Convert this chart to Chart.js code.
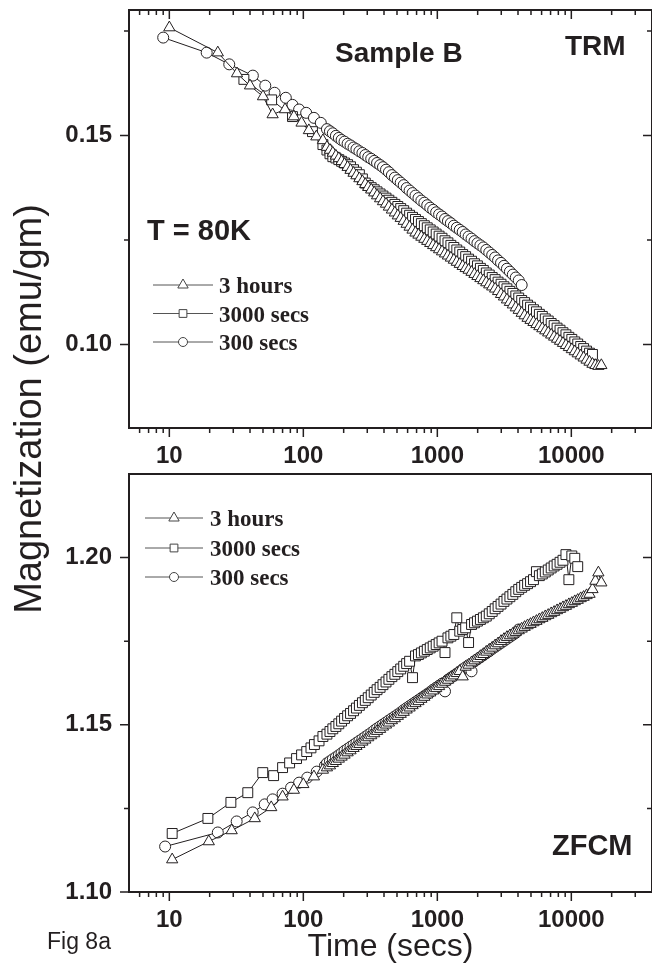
<!DOCTYPE html>
<html>
<head>
<meta charset="utf-8">
<script src="https://cdn.jsdelivr.net/npm/chart.js@4.4.1/dist/chart.umd.min.js"></script>
<style>
  html, body { margin: 0; padding: 0; background: #fff; }
  body { width: 652px; height: 964px; overflow: hidden; position: relative;
         font-family: "Liberation Sans", Arial, sans-serif; color: #231f20; }
  .panel { position: absolute; left: 0; width: 660px; }
  #trmBox { top: 0; height: 470px; }
  #zfcmBox { top: 464px; height: 500px; }
  #ytitle { position: absolute; left: -272px; top: 387px; width: 600px; height: 44px;
            line-height: 44px; text-align: center; font-size: 38px; white-space: nowrap;
            transform: rotate(-90deg); }
  #fig { position: absolute; left: 47px; top: 930px; font-size: 23px; line-height: 23px; }
</style>
</head>
<body>
<div class="panel" id="trmBox"><canvas id="trm"></canvas></div>
<div class="panel" id="zfcmBox"><canvas id="zfcm"></canvas></div>
<div id="ytitle">Magnetization (emu/gm)</div>
<div id="fig">Fig 8a</div>
<script>
// time axis (secs), log scale
const xMajor = [10, 100, 1000, 10000];
const xMinor = [6, 7, 8, 9, 20, 30, 40, 50, 60, 70, 80, 90, 200, 300, 400, 500, 600, 700, 800, 900,
                2000, 3000, 4000, 5000, 6000, 7000, 8000, 9000, 20000, 30000];
const xTickLabels = ['10', '100', '1000', '10000'];

// measurement times after ~150 s (shared by all runs)
const sampleTimes = [150, 158, 166, 175, 184, 193, 203, 214, 225, 237,
  249, 262, 276, 290, 305, 321, 338, 355, 374, 393,
  414, 435, 458, 482, 507, 533, 561, 590, 621, 653,
  687, 723, 760, 800, 841, 885, 931, 980, 1031, 1084,
  1141, 1200, 1262, 1328, 1397, 1470, 1546, 1627, 1711, 1800,
  1894, 1992, 2096, 2205, 2319, 2440, 2567, 2700, 2840, 2988,
  3143, 3307, 3479, 3660, 3850, 4050, 4261, 4482, 4715, 4960,
  5218, 5490, 5775, 6075, 6391, 6724, 7073, 7441, 7828, 8235,
  8663, 9114, 9588, 10086, 10611, 11163, 11743, 12354, 12996, 13672,
  14383, 15131, 15918, 16746];

// ---- TRM panel ----
const trmMajor = [0.10, 0.15];
const trmMinor = [0.125, 0.175];
const trmTickLabels = ['0.10', '0.15'];

const trmEarly3h = [10, 23, 32, 40, 50, 59, 73, 85, 97, 110, 125, 140];
const trmVals3h = [0.1758, 0.1698, 0.1648, 0.1619, 0.1593, 0.1550, 0.1562, 0.1545, 0.1530, 0.1512, 0.1497, 0.1488,
  0.1472, 0.1465, 0.1458, 0.1451, 0.1445, 0.1438, 0.1431, 0.1424, 0.1417, 0.1410,
  0.1404, 0.1397, 0.1390, 0.1383, 0.1376, 0.1370, 0.1363, 0.1356, 0.1349, 0.1342,
  0.1336, 0.1329, 0.1322, 0.1315, 0.1308, 0.1302, 0.1295, 0.1288, 0.1281, 0.1274,
  0.1267, 0.1262, 0.1257, 0.1252, 0.1247, 0.1242, 0.1237, 0.1232, 0.1227, 0.1222,
  0.1217, 0.1212, 0.1207, 0.1202, 0.1197, 0.1192, 0.1187, 0.1182, 0.1178, 0.1173,
  0.1168, 0.1163, 0.1158, 0.1153, 0.1148, 0.1143, 0.1138, 0.1133, 0.1127, 0.1120,
  0.1114, 0.1107, 0.1101, 0.1095, 0.1088, 0.1082, 0.1075, 0.1069, 0.1063, 0.1058,
  0.1053, 0.1048, 0.1043, 0.1038, 0.1033, 0.1028, 0.1023, 0.1018, 0.1013, 0.1008,
  0.1003, 0.0998, 0.0993, 0.0988, 0.0983, 0.0978, 0.0973, 0.0968, 0.0963, 0.0958,
  0.0953, 0.0950, 0.0948, 0.0950];

const trmEarly3000 = [36, 58, 83, 117, 140];
const trmVals3000 = [0.1634, 0.1585, 0.1545, 0.1509, 0.1478,
  0.1465, 0.1456, 0.1449, 0.1446, 0.1442, 0.1438, 0.1434, 0.1430, 0.1425, 0.1418,
  0.1412, 0.1406, 0.1396, 0.1386, 0.1380, 0.1375, 0.1370, 0.1365, 0.1360, 0.1355,
  0.1350, 0.1345, 0.1340, 0.1335, 0.1330, 0.1325, 0.1320, 0.1314, 0.1309, 0.1304,
  0.1299, 0.1294, 0.1289, 0.1284, 0.1279, 0.1274, 0.1269, 0.1264, 0.1259, 0.1254,
  0.1248, 0.1243, 0.1237, 0.1232, 0.1226, 0.1221, 0.1215, 0.1210, 0.1204, 0.1199,
  0.1193, 0.1188, 0.1182, 0.1177, 0.1171, 0.1166, 0.1160, 0.1155, 0.1149, 0.1144,
  0.1138, 0.1133, 0.1127, 0.1122, 0.1116, 0.1111, 0.1105, 0.1100, 0.1094, 0.1089,
  0.1083, 0.1078, 0.1072, 0.1067, 0.1061, 0.1056, 0.1050, 0.1045, 0.1039, 0.1034,
  0.1028, 0.1023, 0.1017, 0.1012, 0.1006, 0.1001, 0.0995, 0.0990, 0.0984, 0.0979,
  0.0976];

const trmEarly300 = [9, 19, 28, 42, 52, 61, 74, 83, 93, 105, 120, 135];
const trmVals300 = [0.1734, 0.1698, 0.1670, 0.1643, 0.1619, 0.1602, 0.1590, 0.1573, 0.1562, 0.1554, 0.1542, 0.1530,
  0.1515, 0.1510, 0.1505, 0.1499, 0.1494, 0.1489, 0.1485, 0.1480, 0.1476, 0.1471,
  0.1467, 0.1462, 0.1458, 0.1453, 0.1448, 0.1444, 0.1439, 0.1434, 0.1429, 0.1424,
  0.1418, 0.1412, 0.1405, 0.1399, 0.1393, 0.1387, 0.1381, 0.1374, 0.1368, 0.1362,
  0.1356, 0.1350, 0.1344, 0.1339, 0.1333, 0.1327, 0.1322, 0.1316, 0.1311, 0.1306,
  0.1300, 0.1295, 0.1290, 0.1284, 0.1279, 0.1274, 0.1269, 0.1263, 0.1258, 0.1253,
  0.1247, 0.1242, 0.1237, 0.1232, 0.1226, 0.1220, 0.1214, 0.1208, 0.1201, 0.1195,
  0.1188, 0.1181, 0.1174, 0.1167, 0.1160, 0.1153, 0.1142];

// ---- ZFCM panel ----
const zfcMajor = [1.10, 1.15, 1.20];
const zfcMinor = [1.125, 1.175];
const zfcTickLabels = ['1.10', '1.15', '1.20'];

const zfcEarly3h = [10.5, 19.7, 29.2, 43.4, 57.6, 70, 85, 100, 120, 140];
const zfcVals3h = [1.1097, 1.1151, 1.1184, 1.1220, 1.1253, 1.1285, 1.1305, 1.1322, 1.1345, 1.1365,
  1.1372, 1.1378, 1.1385, 1.1391, 1.1398, 1.1404, 1.1410, 1.1417, 1.1423, 1.1430,
  1.1436, 1.1442, 1.1449, 1.1455, 1.1462, 1.1468, 1.1474, 1.1481, 1.1487, 1.1494,
  1.1500, 1.1506, 1.1513, 1.1519, 1.1526, 1.1532, 1.1538, 1.1545, 1.1551, 1.1558,
  1.1564, 1.1570, 1.1577, 1.1583, 1.1590, 1.1596, 1.1602, 1.1609, 1.1615, 1.1622,
  1.1628, 1.1634, 1.1641, 1.1647, 1.1654, 1.1660, 1.1644, 1.1673, 1.1679, 1.1686,
  1.1692, 1.1698, 1.1705, 1.1711, 1.1718, 1.1724, 1.1730, 1.1737, 1.1743, 1.1750,
  1.1756, 1.1762, 1.1767, 1.1772, 1.1777, 1.1782, 1.1787, 1.1792, 1.1797, 1.1801,
  1.1806, 1.1810, 1.1815, 1.1819, 1.1824, 1.1828, 1.1833, 1.1837, 1.1842, 1.1846,
  1.1851, 1.1855, 1.1860, 1.1864, 1.1869, 1.1873, 1.1878, 1.1882, 1.1887, 1.1891,
  1.1905, 1.1930, 1.1955, 1.1925];

const zfcEarly3000 = [10.5, 19.4, 28.8, 38.5, 49.8, 60, 70, 79, 89, 97, 106, 114, 121, 131, 140];
const zfcVals3000 = [1.1175, 1.1220, 1.1268, 1.1297, 1.1357, 1.1348, 1.1372, 1.1386, 1.1399, 1.1410,
  1.1420, 1.1431, 1.1441, 1.1452, 1.1465,
  1.1472, 1.1480, 1.1488, 1.1495, 1.1503, 1.1511, 1.1519, 1.1527, 1.1534, 1.1542,
  1.1550, 1.1558, 1.1566, 1.1573, 1.1581, 1.1589, 1.1597, 1.1605, 1.1612, 1.1620,
  1.1628, 1.1636, 1.1644, 1.1651, 1.1659, 1.1667, 1.1675, 1.1683, 1.1690, 1.1641,
  1.1706, 1.1710, 1.1715, 1.1720, 1.1725, 1.1730, 1.1735, 1.1740, 1.1745, 1.1750,
  1.1716, 1.1760, 1.1765, 1.1770, 1.1820, 1.1780, 1.1785, 1.1790, 1.1746, 1.1800,
  1.1805, 1.1810, 1.1815, 1.1820, 1.1825, 1.1832, 1.1839, 1.1847, 1.1854, 1.1861,
  1.1869, 1.1876, 1.1883, 1.1890, 1.1898, 1.1905, 1.1911, 1.1917, 1.1922, 1.1928,
  1.1934, 1.1958, 1.1946, 1.1951, 1.1957, 1.1963, 1.1969, 1.1975, 1.1980, 1.1986,
  1.1992, 1.2009, 1.1934, 1.2005, 1.1998, 1.1973];

const zfcEarly300 = [9.3, 23, 31.8, 41.9, 51.5, 59, 70, 81, 93, 107, 126, 145];
const zfcVals300 = [1.1136, 1.1178, 1.1211, 1.1238, 1.1262, 1.1277, 1.1294, 1.1312, 1.1327, 1.1342, 1.1360, 1.1378,
  1.1385, 1.1391, 1.1397, 1.1403, 1.1409, 1.1415, 1.1422, 1.1428, 1.1434, 1.1440,
  1.1446, 1.1452, 1.1458, 1.1464, 1.1470, 1.1476, 1.1483, 1.1489, 1.1495, 1.1501,
  1.1507, 1.1513, 1.1519, 1.1525, 1.1531, 1.1537, 1.1544, 1.1550, 1.1556, 1.1562,
  1.1568, 1.1574, 1.1580, 1.1586, 1.1592, 1.1598, 1.1605, 1.1611, 1.1617, 1.1623,
  1.1600, 1.1635, 1.1641, 1.1647, 1.1653, 1.1659, 1.1666, 1.1672, 1.1678, 1.1660,
  1.1690, 1.1696, 1.1702, 1.1708, 1.1714, 1.1720, 1.1727, 1.1733, 1.1739, 1.1745,
  1.1751, 1.1757, 1.1763, 1.1769, 1.1775, 1.1785];

const seriesLabels = ['3 hours', '3000 secs', '300 secs'];

const ink = '#231f20';
const markers = [
  { style: 'triangle', radius: 6.5, legendRadius: 6 },
  { style: 'rect', radius: 7, legendRadius: 5.5 },
  { style: 'circle', radius: 5.5, legendRadius: 4.5 }
];

// a run = its early readings, then the shared sample times, as far as its values go
function toPoints(early, vals) {
  const times = early.concat(sampleTimes);
  return vals.map((v, i) => ({ x: times[i], y: v }));
}

function makeDatasets(runs) {
  return runs.map((r, i) => ({
    label: seriesLabels[i],
    data: toPoints(r[0], r[1]),
    showLine: true,
    borderColor: ink,
    borderWidth: 1,
    pointStyle: markers[i].style,
    pointRadius: markers[i].radius,
    pointBackgroundColor: '#fff',
    pointBorderColor: ink,
    pointBorderWidth: 1
  }));
}

// frame plus ticks: out on left/bottom, in on right/top
function frameTicks(yMajor, yMinor, topTicks) {
  return {
    id: 'frameTicks',
    afterDraw(chart) {
      const { ctx, chartArea: a } = chart;
      const xs = chart.scales.x, ys = chart.scales.y;
      ctx.save();
      ctx.strokeStyle = ink;
      ctx.lineWidth = 2;
      ctx.strokeRect(a.left, a.top, a.right - a.left, a.bottom - a.top);
      ctx.lineWidth = 1.5;
      ctx.beginPath();
      const seg = (x1, y1, x2, y2) => { ctx.moveTo(x1, y1); ctx.lineTo(x2, y2); };
      [[xMajor, 9], [xMinor, 5]].forEach(([vals, len]) => vals.forEach(v => {
        const px = xs.getPixelForValue(v);
        seg(px, a.bottom, px, a.bottom + len);
        if (topTicks) seg(px, a.top, px, a.top + len);
      }));
      [[yMajor, 9], [yMinor, 5]].forEach(([vals, len]) => vals.forEach(v => {
        const py = ys.getPixelForValue(v);
        seg(a.left - len, py, a.left, py);
        seg(a.right - len, py, a.right, py);
      }));
      ctx.stroke();
      ctx.restore();
    }
  };
}

function legendBox(o) {
  return {
    id: 'legendBox',
    afterDraw(chart) {
      const ctx = chart.ctx;
      ctx.save();
      chart.data.datasets.forEach((ds, i) => {
        const y = o.rows[i];
        ctx.strokeStyle = '#555';
        ctx.lineWidth = 1;
        ctx.beginPath();
        ctx.moveTo(o.x1, y); ctx.lineTo(o.x2, y);
        ctx.stroke();
        ctx.fillStyle = '#fff';
        ctx.strokeStyle = '#444';
        Chart.helpers.drawPoint(ctx, { pointStyle: markers[i].style, radius: markers[i].legendRadius,
          rotation: 0, borderWidth: 1 }, o.mx, y);
        ctx.fillStyle = ink;
        ctx.font = 'bold 23px "Liberation Serif", "Times New Roman", serif';
        ctx.textBaseline = 'alphabetic';
        ctx.fillText(ds.label, o.tx, y + 8);
      });
      ctx.restore();
    }
  };
}

function notes(items) {
  return {
    id: 'notes',
    afterDraw(chart) {
      const ctx = chart.ctx;
      ctx.save();
      ctx.fillStyle = ink;
      ctx.textBaseline = 'alphabetic';
      items.forEach(n => {
        ctx.font = n.font;
        ctx.fillText(n.text, n.x, n.y);
      });
      ctx.restore();
    }
  };
}

const tickFont = { family: '"Liberation Sans", Arial, sans-serif', size: 24, weight: 'bold' };

function makeChart(id, datasets, y, xHeight, xTitle, extraPlugins) {
  return new Chart(document.getElementById(id), {
    type: 'scatter',
    data: { datasets },
    options: {
      responsive: true,
      maintainAspectRatio: false,
      animation: false,
      layout: { padding: { top: 10, right: 7, left: 0, bottom: 0 } },
      plugins: { legend: { display: false }, tooltip: { enabled: false } },
      scales: {
        x: {
          type: 'logarithmic',
          min: 5,
          max: 40000,
          grid: { display: false, drawTicks: false },
          border: { display: false },
          afterBuildTicks: s => { s.ticks = xMajor.map(v => ({ value: v })); },
          afterFit: s => { s.height = xHeight; s.paddingLeft = 0; s.paddingRight = 0; },
          ticks: {
            autoSkip: false, maxRotation: 0, padding: 14, color: ink, font: tickFont,
            callback: (v, i) => xTickLabels[i]
          },
          title: xTitle
        },
        y: {
          min: y.min,
          max: y.max,
          grid: { display: false, drawTicks: false },
          border: { display: false },
          afterBuildTicks: s => { s.ticks = y.major.map(v => ({ value: v })); },
          afterFit: s => { s.width = 129; s.paddingTop = 0; s.paddingBottom = 0; },
          ticks: {
            padding: 17, color: ink, font: tickFont,
            callback: (v, i) => y.labels[i]
          }
        }
      }
    },
    plugins: [frameTicks(y.major, y.minor, y.topTicks)].concat(extraPlugins)
  });
}

makeChart('trm',
  makeDatasets([[trmEarly3h, trmVals3h], [trmEarly3000, trmVals3000], [trmEarly300, trmVals300]]),
  { min: 0.08, max: 0.18, major: trmMajor, minor: trmMinor, labels: trmTickLabels, topTicks: true },
  42,
  { display: false },
  [
    legendBox({ rows: [285, 313.5, 342], x1: 153, x2: 213, mx: 183, tx: 219 }),
    notes([
      { text: 'Sample B', x: 335, y: 62, font: 'bold 28px "Liberation Sans", Arial, sans-serif' },
      { text: 'TRM', x: 565, y: 55, font: 'bold 28px "Liberation Sans", Arial, sans-serif' },
      { text: 'T = 80K', x: 147, y: 240, font: 'bold 29px "Liberation Sans", Arial, sans-serif' }
    ])
  ]);

makeChart('zfcm',
  makeDatasets([[zfcEarly3h, zfcVals3h], [zfcEarly3000, zfcVals3000], [zfcEarly300, zfcVals300]]),
  { min: 1.10, max: 1.225, major: zfcMajor, minor: zfcMinor, labels: zfcTickLabels, topTicks: false },
  72,
  {
    display: true, text: 'Time (secs)', color: ink,
    font: { family: '"Liberation Sans", Arial, sans-serif', size: 32, lineHeight: 0.95 },
    padding: { top: 0, bottom: 2 }
  },
  [
    legendBox({ rows: [54, 84, 113], x1: 145, x2: 203, mx: 174, tx: 210 }),
    notes([
      { text: 'ZFCM', x: 552, y: 391, font: 'bold 29px "Liberation Sans", Arial, sans-serif' }
    ])
  ]);
</script>
</body>
</html>
